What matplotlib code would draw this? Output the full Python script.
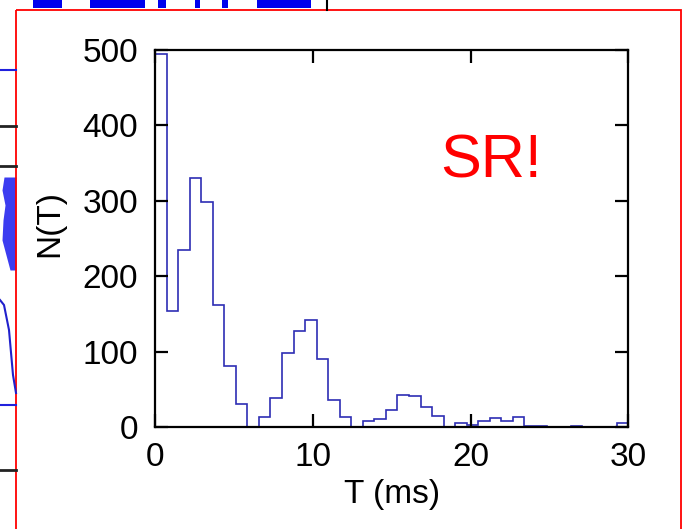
import numpy as np
import matplotlib
matplotlib.use("Agg")
import matplotlib.pyplot as plt
from matplotlib.patches import Rectangle

plt.rcParams['font.family'] = ['Liberation Sans', 'DejaVu Sans']

# histogram of intervals T (ms): 41 bins from 0 to 30 ms
t_min, t_max, n_bins = 0, 30, 41
counts = [495, 154, 235, 330, 298, 162, 81, 30, 0, 13,
          39, 98, 127, 142, 90, 36, 13, 0, 8, 10,
          23, 42, 41, 27, 15, 0, 5, 2, 8, 12,
          8, 13, 1, 1, 0, 0, 1, 0, 0, 0,
          5]
x_ticks = [0, 10, 20, 30]
y_ticks = [0, 100, 200, 300, 400, 500]

# bits of other slide plots peeking out behind the red frame (figure pixels)
top_blocks = [(33, 62), (90, 145), (158, 166), (195, 200), (222, 228), (257, 311)]
left_black_lines = [126, 166, 470]
left_blue_lines = [70, 405]
noisy_y = [177, 190, 205, 220, 240, 255, 270]
noisy_x0 = [4, 2, 5, 3, 2, 6, 10]

W, H = 685, 529
fig = plt.figure(figsize=(W / 100, H / 100), dpi=100)

# background layer in pixel units
bg = fig.add_axes([0, 0, 1, 1])
bg.set_xlim(0, W)
bg.set_ylim(H, 0)
bg.axis("off")
for a, b in top_blocks:
    bg.add_patch(Rectangle((a, 0), b - a, 8, color="#0000ee", lw=0))
bg.plot([327, 327], [0, 10], color="black", lw=1.5)
for yy in left_black_lines:
    bg.plot([0, 16], [yy, yy], color="#222222", lw=2)
for yy in left_blue_lines:
    bg.plot([0, 16], [yy, yy], color="#2020dd", lw=1.5)
bg.fill_betweenx(noisy_y, noisy_x0, 16, color="#1a1aee", lw=0, alpha=0.85)
bg.plot([0, 4, 9, 13, 16], [300, 305, 330, 375, 393], color="#2020cc", lw=1.5)
bg.add_patch(Rectangle((16, 10), 665, 530, fill=False, ec="#ff0000", lw=1.3))

edges = np.linspace(t_min, t_max, n_bins + 1)
ax = fig.add_axes([155 / W, 1 - 427 / H, (628.3 - 155) / W, (427 - 50) / H])
ax.stairs(counts, edges, color="#2e2eb4", lw=1.2)
ax.set_xlim(t_min, t_max)
ax.set_ylim(0, 500)
ax.set_xticks(x_ticks)
ax.set_yticks(y_ticks)
ax.tick_params(direction="in", length=9.5, width=1.6, labelsize=24,
               top=True, right=True)
ax.tick_params(axis="y", pad=12)
ax.tick_params(axis="x", pad=11)
for s in ax.spines.values():
    s.set_linewidth(1.6)
ax.set_xlabel("T (ms)", fontsize=24, labelpad=4)
ax.set_ylabel("N(T)", fontsize=24)
ax.yaxis.set_label_coords(-0.19, 0.54)
ax.text(18.05, 331, "SR!", color="#ff0000", fontsize=44, ha="left", va="baseline")

fig.savefig("out.png", dpi=100)
